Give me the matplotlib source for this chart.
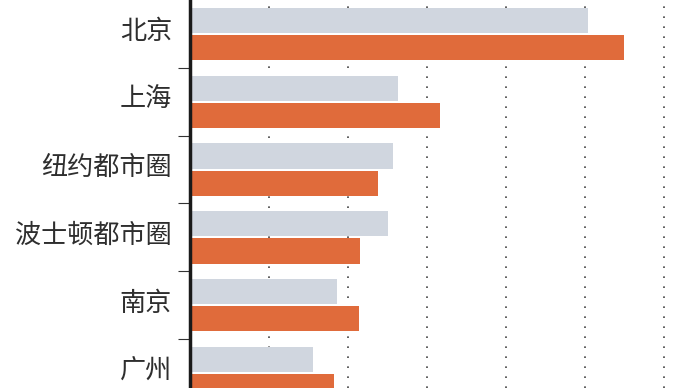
import numpy as np
import matplotlib.pyplot as plt
import matplotlib.transforms as mtransforms
from matplotlib.ticker import FixedLocator

plt.rcParams['font.family'] = ['Noto Sans CJK SC', 'DejaVu Sans']

cities = ["北京", "上海", "纽约都市圈", "波士顿都市圈", "南京", "广州"]
gray_vals = [5.04, 2.63, 2.57, 2.51, 1.86, 1.56]
orange_vals = [5.50, 3.16, 2.38, 2.15, 2.14, 1.82]

fig = plt.figure(figsize=(6.9, 3.88), dpi=100)
ax = fig.add_axes([190 / 690, 0, 500 / 690, 1])

y = np.arange(len(cities))
h = 0.37
ax.barh(y - 0.2, gray_vals, height=h, color="#d0d6df", zorder=2)
ax.barh(y + 0.2, orange_vals, height=h, color="#e06b3b", zorder=2)

ax.set_xlim(0, 6.33)
ax.set_ylim(5.22, -0.50)
ax.set_xticks([1, 2, 3, 4, 5, 6])
ax.grid(axis="x", color="#444444", linestyle=(0, (1, 5)), linewidth=1.2, zorder=1)
ax.tick_params(axis="x", length=0, labelbottom=False)

ax.set_yticks(y)
ax.set_yticklabels(cities, fontsize=18.8, color="#2e2e2e", fontweight="light")
ax.tick_params(axis="y", which="major", length=0, pad=13)
ax.yaxis.set_minor_locator(FixedLocator(y[:-1] + 0.5))
ax.tick_params(axis="y", which="minor", length=9, width=0.8, color="#333333")

# nudge labels up a little
offset = mtransforms.ScaledTranslation(0, 5 / 100, fig.dpi_scale_trans)
for lbl in ax.get_yticklabels():
    lbl.set_transform(lbl.get_transform() + offset)

for s in ["top", "right", "bottom"]:
    ax.spines[s].set_visible(False)
ax.spines["left"].set_linewidth(2.5)
ax.spines["left"].set_color("#1a1a1a")

fig.savefig("out.png", dpi=100)
